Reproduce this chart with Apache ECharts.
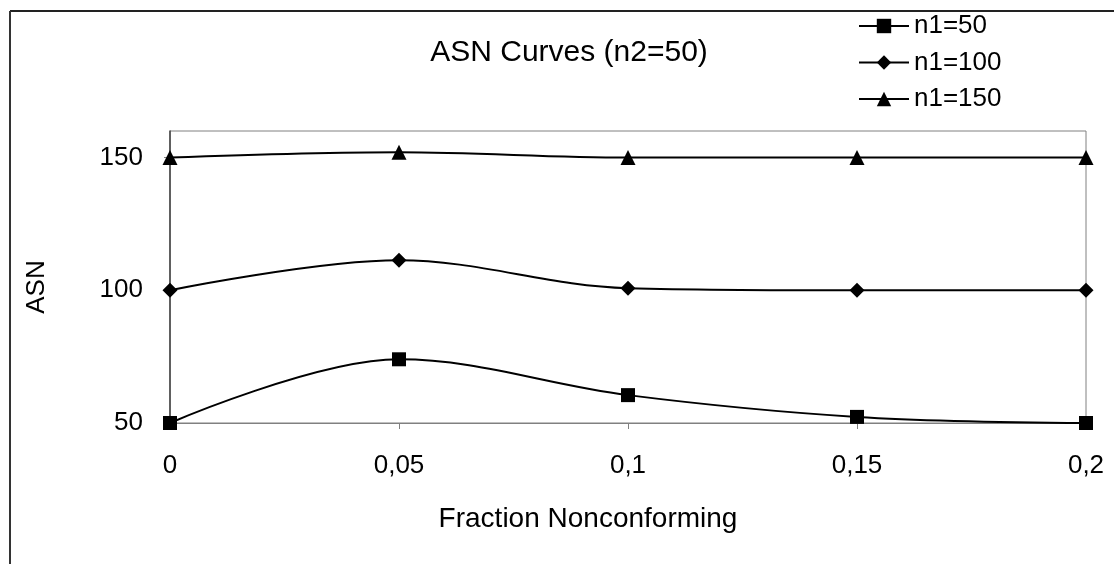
<!DOCTYPE html>
<html>
<head>
<meta charset="utf-8">
<script src="https://cdn.jsdelivr.net/npm/echarts@6/dist/echarts.min.js"></script>
<style>
html,body{margin:0;padding:0;background:#fff;}
#chart{width:1114px;height:564px;}
</style>
</head>
<body>
<div id="chart"></div>
<script>
const fractions = [0, 0.05, 0.1, 0.15, 0.2];
const asnN1_50 = [50, 74, 60.5, 52.3, 50];
const asnN1_100 = [100, 111.3, 100.8, 100, 100];
const asnN1_150 = [150, 152, 150, 150, 150];
const seriesNames = ['n1=50', 'n1=100', 'n1=150'];
const yTicks = [50, 100, 150];
const xTicks = [0, 0.05, 0.1, 0.15, 0.2];

const pair = (vals) => fractions.map((f, i) => [f, vals[i]]);
const FONT = 'Liberation Sans, Arial, sans-serif';

const chart = echarts.init(document.getElementById('chart'), null, {renderer: 'canvas'});
const lineStyle = {color: '#000', width: 2};
const mk = (name, vals, symbol, size) => ({
  name: name,
  type: 'line',
  data: pair(vals),
  smooth: 0.35,
  symbol: symbol,
  symbolSize: size,
  showAllSymbol: true,
  lineStyle: lineStyle,
  itemStyle: {color: '#000'},
  emphasis: {disabled: true},
  animation: false,
  z: 3
});

chart.setOption({
  backgroundColor: '#fff',
  animation: false,
  title: {
    text: 'ASN Curves (n2=50)',
    left: 564, top: 33, textAlign: 'center',
    textStyle: {fontFamily: FONT, fontSize: 30, fontWeight: 'normal', color: '#000'}
  },
  legend: {
    orient: 'vertical',
    left: 858, top: 13, padding: 0,
    itemWidth: 50, itemHeight: 18,
    itemGap: 10.5,
    data: seriesNames,
    textStyle: {fontFamily: FONT, fontSize: 26, color: '#000'},
    selectedMode: false
  },
  grid: {
    left: 170, right: 28, top: 131, bottom: 141,
    show: true, borderColor: '#808080', borderWidth: 1, backgroundColor: 'transparent'
  },
  xAxis: {
    type: 'value',
    min: 0, max: 0.2, interval: 0.05,
    name: 'Fraction Nonconforming',
    nameLocation: 'middle', nameGap: 82,
    nameTextStyle: {fontFamily: FONT, fontSize: 28, color: '#000', padding: [0, 80, 0, 0]},
    axisLine: {show: true, lineStyle: {color: '#808080', width: 1}},
    axisTick: {show: true, length: 6, inside: false, lineStyle: {color: '#808080'}},
    axisLabel: {
      margin: 30, fontFamily: FONT, fontSize: 26, color: '#000',
      formatter: v => String(v).replace('.', ',')
    },
    splitLine: {show: false}
  },
  yAxis: {
    type: 'value',
    min: 50, max: 160, interval: 50,
    name: 'ASN',
    nameLocation: 'middle', nameGap: 120, nameRotate: 90,
    nameTextStyle: {fontFamily: FONT, fontSize: 26, color: '#000', padding: [0, 20, 0, 0]},
    axisLine: {show: true, lineStyle: {color: '#404040', width: 1.5}},
    axisTick: {show: true, length: 6, lineStyle: {color: '#808080'}, customValues: yTicks},
    axisLabel: {margin: 27, fontFamily: FONT, fontSize: 26, color: '#000', customValues: yTicks},
    splitLine: {show: false}
  },
  graphic: [
    {type: 'line', shape: {x1: 10, y1: 11, x2: 1114, y2: 11}, style: {stroke: '#222', lineWidth: 2}, silent: true},
    {type: 'line', shape: {x1: 10, y1: 11, x2: 10, y2: 564}, style: {stroke: '#333', lineWidth: 2}, silent: true}
  ],
  series: [
    mk(seriesNames[0], asnN1_50, 'rect', 14),
    mk(seriesNames[1], asnN1_100, 'diamond', 15),
    mk(seriesNames[2], asnN1_150, 'triangle', 15)
  ]
});
</script>
</body>
</html>
